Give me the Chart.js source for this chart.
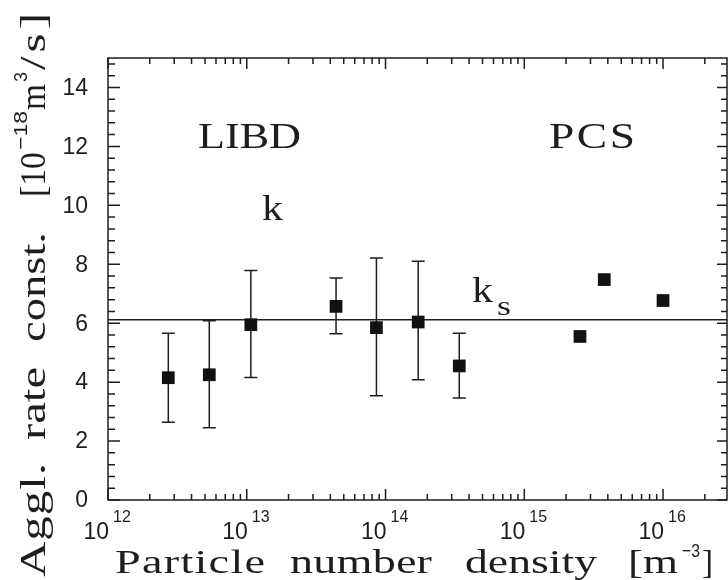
<!DOCTYPE html>
<html>
<head>
<meta charset="utf-8">
<script src="https://cdn.jsdelivr.net/npm/chart.js@4/dist/chart.umd.min.js"></script>
<style>
html,body{margin:0;padding:0;background:#fff;overflow:hidden;}
#wrap{width:728px;height:580px;position:relative;}
</style>
</head>
<body>
<div id="wrap"><canvas id="c" width="728" height="580"></canvas></div>
<script>
// ---- data ----
const libdX = [2.72e12, 5.37e12, 1.07e13, 4.4e13, 8.6e13, 1.72e14, 3.4e14];
const libdY = [4.15, 4.25, 5.95, 6.57, 5.85, 6.04, 4.55];
const libdErrHigh = [5.66, 6.08, 7.79, 7.53, 8.21, 8.10, 5.66];
const libdErrLow = [2.64, 2.45, 4.16, 5.64, 3.54, 4.08, 3.46];
const pcsX = [2.52e15, 3.77e15, 1.0e16];
const pcsY = [5.55, 7.48, 6.77];
const ksValue = 6.12;
const xMin = 1e12, xMax = 2.89e16;
const yMin = 0, yMax = 15;
const xMajorExps = [12, 13, 14, 15, 16];
const yTickLabels = [0, 2, 4, 6, 8, 10, 12, 14];
const xTitleWords = ['Particle', 'number', 'density', '[m', '\u22123', ']'];
const yTitleWords = ['Aggl.', 'rate', 'const.', '[10', '\u221218', 'm', '3', '/s]'];

const INK = '#1e1e1e';

// draw a string starting at (x, y) filling the given width:
// glyphs are stretched up to maxScale, the rest goes into letter gaps
function fitText(ctx, t, font, x, y, width, maxScale) {
  maxScale = maxScale || 10;
  ctx.save();
  ctx.font = font;
  ctx.textBaseline = 'alphabetic';
  ctx.textAlign = 'left';
  const chars = Array.from(t);
  const ws = chars.map(c => ctx.measureText(c).width);
  const nat = ws.reduce((s, v) => s + v, 0);
  let gs = width / nat;
  let gap = 0;
  if (gs > maxScale && chars.length > 1) {
    gs = maxScale;
    gap = (width - nat * gs) / (chars.length - 1);
  }
  ctx.translate(x, y);
  if (gap === 0) {
    ctx.scale(width / ctx.measureText(t).width, 1);
    ctx.fillText(t, 0, 0);
  } else {
    let cx = 0;
    chars.forEach((c, i) => {
      ctx.save();
      ctx.translate(cx, 0);
      ctx.scale(gs, 1);
      ctx.fillText(c, 0, 0);
      ctx.restore();
      cx += ws[i] * gs + gap;
    });
  }
  ctx.restore();
}

const decor = {
  id: 'decor',
  beforeDatasetsDraw(chart) {
    const ctx = chart.ctx, xs = chart.scales.x, ys = chart.scales.y;
    ctx.save();
    ctx.strokeStyle = INK;
    ctx.lineWidth = 1.5;
    for (let i = 0; i < libdX.length; i++) {
      const px = xs.getPixelForValue(libdX[i]);
      const pt = ys.getPixelForValue(libdErrHigh[i]);
      const pb = ys.getPixelForValue(libdErrLow[i]);
      ctx.beginPath();
      ctx.moveTo(px, pt); ctx.lineTo(px, pb);
      ctx.moveTo(px - 6.5, pt); ctx.lineTo(px + 6.5, pt);
      ctx.moveTo(px - 6.5, pb); ctx.lineTo(px + 6.5, pb);
      ctx.stroke();
    }
    ctx.restore();
  },
  afterDraw(chart) {
    const ctx = chart.ctx, xs = chart.scales.x, ys = chart.scales.y;
    const a = chart.chartArea;
    ctx.save();
    ctx.strokeStyle = INK;
    ctx.fillStyle = INK;
    ctx.lineWidth = 1.5;
    ctx.strokeRect(a.left, a.top, a.right - a.left, a.bottom - a.top);
    ctx.beginPath();
    // x ticks
    for (const e of xMajorExps) {
      for (let m = 1; m <= 9; m++) {
        const v = m * Math.pow(10, e);
        if (v < xMin || v > xMax) continue;
        const px = xs.getPixelForValue(v);
        const major = m === 1;
        ctx.moveTo(px, a.bottom); ctx.lineTo(px, a.bottom - (major ? 11 : 6));
        ctx.moveTo(px, a.top); ctx.lineTo(px, a.top + (major ? 11 : 6));
      }
    }
    // y ticks
    for (let k = 0; k <= 75; k++) {
      const v = k * 0.4;
      if (v > yMax + 1e-9) break;
      const py = ys.getPixelForValue(v);
      const major = k % 5 === 0;
      ctx.moveTo(a.left, py); ctx.lineTo(a.left + (major ? 12 : 7), py);
      ctx.moveTo(a.right, py); ctx.lineTo(a.right - (major ? 10 : 6), py);
    }
    ctx.stroke();

    // y tick labels
    ctx.font = '23px "Liberation Sans"';
    ctx.textAlign = 'right';
    ctx.textBaseline = 'middle';
    for (const v of yTickLabels) {
      ctx.fillText(String(v), 88, ys.getPixelForValue(v) + 1);
    }
    // x tick labels: 10^e
    for (const e of xMajorExps) {
      const px = xs.getPixelForValue(Math.pow(10, e));
      ctx.font = '23px "Liberation Sans"';
      ctx.textAlign = 'right';
      ctx.textBaseline = 'alphabetic';
      ctx.fillText('10', px + 1, 539);
      ctx.font = '16px "Liberation Sans"';
      ctx.textAlign = 'left';
      ctx.fillText(String(e), px + 5, 522);
    }

    // annotations
    fitText(ctx, 'LIBD', '35px "Liberation Serif"', 198, 148, 103, 1.3);
    fitText(ctx, 'PCS', '35px "Liberation Serif"', 549, 148, 86, 1.3);
    fitText(ctx, 'k', '36px "Liberation Serif"', 262, 220, 21);
    fitText(ctx, 'k', '36px "Liberation Serif"', 472, 302, 21);
    fitText(ctx, 's', '27px "Liberation Serif"', 497, 315, 14);

    // x axis title, word by word
    const xF = '33px "Liberation Serif"';
    const supF = '19px "Liberation Sans"';
    const xSpans = [[115, 265], [290, 432], [465, 597], [628, 678], [682, 700], [702, 713]];
    xTitleWords.forEach((w, i) => {
      const sup = i === 4;
      fitText(ctx, w, sup ? supF : xF, xSpans[i][0], sup ? 557 : 573, xSpans[i][1] - xSpans[i][0], 1.4);
    });

    // y axis title (rotated), spans given as canvas y from bottom to top
    const yF = '35px "Liberation Serif"';
    const ySpans = [[577, 463], [440, 367], [342, 232], [197, 152], [150, 111], [110, 84], [82, 72], [70, 13]];
    ctx.save();
    ctx.translate(45, 0);
    ctx.rotate(-Math.PI / 2);
    yTitleWords.forEach((w, i) => {
      const sup = i === 4 || i === 6;
      fitText(ctx, w, sup ? supF : yF, -ySpans[i][0], sup ? -18 : 0, ySpans[i][0] - ySpans[i][1], 1.4);
    });
    ctx.restore();

    ctx.restore();
  }
};

const libdPoints = libdX.map((x, i) => ({x, y: libdY[i]}));
const pcsPoints = pcsX.map((x, i) => ({x, y: pcsY[i]}));

new Chart(document.getElementById('c'), {
  type: 'scatter',
  data: {
    datasets: [
      {
        type: 'line', label: 'k_s',
        data: [{x: xMin, y: ksValue}, {x: xMax, y: ksValue}],
        borderColor: INK, borderWidth: 1.5, pointRadius: 0, fill: false, order: 3
      },
      {
        label: 'LIBD', data: libdPoints,
        pointStyle: 'rect', pointRadius: 9, backgroundColor: '#111', borderColor: '#111', borderWidth: 0, order: 1
      },
      {
        label: 'PCS', data: pcsPoints,
        pointStyle: 'rect', pointRadius: 9, backgroundColor: '#111', borderColor: '#111', borderWidth: 0, order: 2
      }
    ]
  },
  options: {
    responsive: false,
    animation: false,
    devicePixelRatio: 1,
    layout: { autoPadding: false, padding: { left: 108, top: 58, right: 1, bottom: 80 } },
    plugins: { legend: { display: false }, tooltip: { enabled: false } },
    scales: {
      x: { type: 'logarithmic', min: xMin, max: xMax, display: false },
      y: { type: 'linear', min: yMin, max: yMax, display: false }
    }
  },
  plugins: [decor]
});
</script>
</body>
</html>
